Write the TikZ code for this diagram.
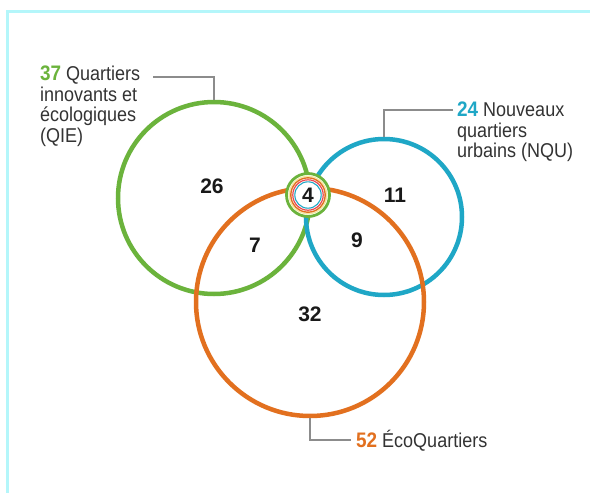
\documentclass[tikz,border=0pt]{standalone}
\usepackage{fontspec}
\setmainfont{Liberation Sans}
\newfontfamily\condfont{Liberation Sans}[FakeStretch=0.9]
\definecolor{qiegreen}{HTML}{6BB33C}
\definecolor{nqublue}{HTML}{1FA7C6}
\definecolor{ecoorange}{HTML}{E2701F}
\definecolor{ringred}{HTML}{E8474F}
\definecolor{ringyel}{HTML}{F4E9A0}
\definecolor{txtgray}{HTML}{333333}
\definecolor{leadgray}{HTML}{8C8C8C}
\definecolor{framecyan}{HTML}{B4F6FA}
\newcommand\bignumfont{\bfseries\fontsize{21}{20.5}\selectfont}
\begin{document}
\begin{tikzpicture}[x=1pt,y=-1pt,
  venn/.style={circle,draw,line width=4.5pt,inner sep=0pt,minimum size=#1},
  num/.style={font=\bfseries\fontsize{21}{21}\selectfont,text=black!90,inner sep=0pt},
  lbl/.style={font=\condfont\fontsize{20}{20.5}\selectfont,text=txtgray,inner sep=0pt,align=left},
  leader/.style={draw=leadgray,line width=1.1pt}]
\useasboundingbox (0,0) rectangle (590,493);
\fill[white] (0,0) rectangle (590,493);
\draw[framecyan,line width=3pt] (7.5,600) -- (7.5,11.5) -- (600,11.5);
% circles
\node[venn=192pt,draw=qiegreen] (g) at (214,198) {};
\node[venn=156pt,draw=nqublue] (b) at (384,217) {};
\node[venn=228pt,draw=ecoorange] (o) at (310,302) {};
% central ring
\node[circle,fill=white,draw=qiegreen,line width=2.8pt,minimum size=43pt,inner sep=0pt] (ring) at (308,195) {};
\draw[ringyel,line width=1.2pt] (ring.center) circle[radius=18.8];
\draw[ecoorange,line width=1.4pt] (ring.center) circle[radius=17.2];
\draw[ringred,line width=1.2pt] (ring.center) circle[radius=15.2];
\draw[nqublue,line width=1.1pt] (ring.center) circle[radius=13.2];
% numbers
\node[num] (n4) at (ring.center) {4};
\node[num] (n26) at (212,186) {26};
\node[num] (n7) at (255,245) {7};
\node[num] (n11) at (395,195) {11};
\node[num] (n9) at (357,240) {9};
\node[num] (n32) at (310,314) {32};
% labels
\node[lbl,anchor=north west] (qie) at (40,66) {{\bignumfont\color{qiegreen}37} Quartiers\\innovants et\\écologiques\\(QIE)};
\node[lbl,anchor=north west] (nqu) at (457,102) {{\bignumfont\color{nqublue}24} Nouveaux\\quartiers\\urbains (NQU)};
\node[lbl,anchor=base west] (eco) at (356,447) {{\bignumfont\color{ecoorange}52} ÉcoQuartiers};
% leaders
\coordinate (gl) at (153,77);
\coordinate (bl) at (453,110);
\coordinate (ol) at (351,440);
\draw[leader] (gl) -| (g.north);
\draw[leader] (bl) -| (b.north);
\draw[leader] (o.south) |- (ol);
\end{tikzpicture}
\end{document}
